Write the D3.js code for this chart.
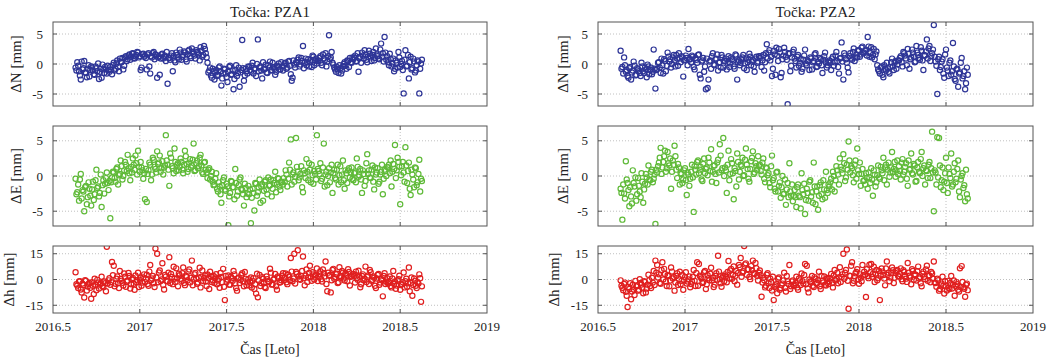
<!DOCTYPE html>
<html>
<head>
<meta charset="utf-8">
<script src="https://cdn.jsdelivr.net/npm/d3@7"></script>
<style>
  body { margin: 0; background: #fff; }
  svg { display: block; }
  text { font-family: "Liberation Serif", "DejaVu Serif", serif; fill: #222; }
</style>
</head>
<body>
<svg id="chart" width="1055" height="361"></svg>
<script>
// epochs (decimal year), shared by both stations; second half is the in-between days
const epochs = [
  2016.63,2016.64,2016.65,2016.66,2016.67,2016.68,2016.69,2016.70,2016.71,2016.72,2016.73,2016.74,2016.75,2016.76,2016.77,2016.78,2016.79,2016.80,2016.81,2016.82,
  2016.83,2016.84,2016.85,2016.86,2016.87,2016.88,2016.89,2016.90,2016.91,2016.92,2016.93,2016.94,2016.95,2016.96,2016.97,2016.98,2016.99,2017.00,2017.01,2017.02,
  2017.03,2017.04,2017.05,2017.06,2017.07,2017.08,2017.09,2017.10,2017.11,2017.12,2017.13,2017.14,2017.15,2017.16,2017.17,2017.18,2017.19,2017.20,2017.21,2017.22,
  2017.23,2017.24,2017.25,2017.26,2017.27,2017.28,2017.29,2017.30,2017.31,2017.32,2017.33,2017.34,2017.35,2017.36,2017.37,2017.38,2017.39,2017.40,2017.41,2017.42,
  2017.43,2017.44,2017.45,2017.46,2017.47,2017.48,2017.49,2017.50,2017.51,2017.52,2017.53,2017.54,2017.55,2017.56,2017.57,2017.58,2017.59,2017.60,2017.61,2017.62,
  2017.63,2017.64,2017.65,2017.66,2017.67,2017.68,2017.69,2017.70,2017.71,2017.72,2017.73,2017.74,2017.75,2017.76,2017.77,2017.78,2017.79,2017.80,2017.81,2017.82,
  2017.83,2017.84,2017.85,2017.86,2017.87,2017.88,2017.89,2017.90,2017.91,2017.92,2017.93,2017.94,2017.95,2017.96,2017.97,2017.98,2017.99,2018.00,2018.01,2018.02,
  2018.03,2018.04,2018.05,2018.06,2018.07,2018.08,2018.09,2018.10,2018.11,2018.12,2018.13,2018.14,2018.15,2018.16,2018.17,2018.18,2018.19,2018.20,2018.21,2018.22,
  2018.23,2018.24,2018.25,2018.26,2018.27,2018.28,2018.29,2018.30,2018.31,2018.32,2018.33,2018.34,2018.35,2018.36,2018.37,2018.38,2018.39,2018.40,2018.41,2018.42,
  2018.43,2018.44,2018.45,2018.46,2018.47,2018.48,2018.49,2018.50,2018.51,2018.52,2018.53,2018.54,2018.55,2018.56,2018.57,2018.58,2018.59,2018.60,2018.61,2018.62,
  2016.635,2016.645,2016.655,2016.665,2016.675,2016.685,2016.695,2016.705,2016.715,2016.725,2016.735,2016.745,2016.755,2016.765,2016.775,2016.785,2016.795,2016.805,2016.815,2016.825,
  2016.835,2016.845,2016.855,2016.865,2016.875,2016.885,2016.895,2016.905,2016.915,2016.925,2016.935,2016.945,2016.955,2016.965,2016.975,2016.985,2016.995,2017.005,2017.015,2017.025,
  2017.035,2017.045,2017.055,2017.065,2017.075,2017.085,2017.095,2017.105,2017.115,2017.125,2017.135,2017.145,2017.155,2017.165,2017.175,2017.185,2017.195,2017.205,2017.215,2017.225,
  2017.235,2017.245,2017.255,2017.265,2017.275,2017.285,2017.295,2017.305,2017.315,2017.325,2017.335,2017.345,2017.355,2017.365,2017.375,2017.385,2017.395,2017.405,2017.415,2017.425,
  2017.435,2017.445,2017.455,2017.465,2017.475,2017.485,2017.495,2017.505,2017.515,2017.525,2017.535,2017.545,2017.555,2017.565,2017.575,2017.585,2017.595,2017.605,2017.615,2017.625,
  2017.635,2017.645,2017.655,2017.665,2017.675,2017.685,2017.695,2017.705,2017.715,2017.725,2017.735,2017.745,2017.755,2017.765,2017.775,2017.785,2017.795,2017.805,2017.815,2017.825,
  2017.835,2017.845,2017.855,2017.865,2017.875,2017.885,2017.895,2017.905,2017.915,2017.925,2017.935,2017.945,2017.955,2017.965,2017.975,2017.985,2017.995,2018.005,2018.015,2018.025,
  2018.035,2018.045,2018.055,2018.065,2018.075,2018.085,2018.095,2018.105,2018.115,2018.125,2018.135,2018.145,2018.155,2018.165,2018.175,2018.185,2018.195,2018.205,2018.215,2018.225,
  2018.235,2018.245,2018.255,2018.265,2018.275,2018.285,2018.295,2018.305,2018.315,2018.325,2018.335,2018.345,2018.355,2018.365,2018.375,2018.385,2018.395,2018.405,2018.415,2018.425,
  2018.435,2018.445,2018.455,2018.465,2018.475,2018.485,2018.495,2018.505,2018.515,2018.525,2018.535,2018.545,2018.555,2018.565,2018.575,2018.585,2018.595,2018.605,2018.615,2018.625
];

// PZA1 [mm]
const pza1N = [
  -0.6,0.3,-1.2,-2.6,-0.9,0.5,-1.5,-0.8,-2.1,-0.4,-1.1,-1.8,-0.7,0.1,-1.3,-2.3,-0.9,-0.5,-1.6,-1.0,
  -0.5,-1.7,0.2,-0.8,0.6,-1.2,0.4,1.0,-0.3,1.3,0.8,1.6,1.2,1.8,0.9,1.5,1.9,1.3,-0.6,1.7,
  1.4,-0.9,1.8,-1.6,1.1,2.0,1.6,-2.3,1.3,0.9,1.7,1.2,0.5,-3.3,1.0,1.4,-1.2,0.6,1.9,1.1,
  2.4,0.7,1.5,1.9,0.4,2.2,1.3,2.6,1.7,0.9,2.0,1.6,2.8,1.2,3.0,1.8,0.2,-1.1,-1.9,-0.8,
  -2.6,-1.0,-1.8,-0.4,-3.6,-1.5,-0.9,-2.2,-1.2,-0.3,-1.7,-4.2,-1.0,-2.0,-0.6,-1.4,4.0,-2.8,-0.8,-1.6,
  -0.5,-1.3,0.2,-0.9,-2.0,4.1,-0.6,-1.1,0.3,-0.8,-1.4,-0.2,0.4,-1.0,-0.5,-1.8,-0.3,0.1,-0.9,-0.4,
  -0.3,0.2,-0.6,0.5,-1.7,-2.3,-0.1,0.3,0.7,-0.4,1.0,3.0,0.2,-0.2,0.8,0.4,-0.5,1.2,0.6,0.1,
  0.6,1.3,-0.2,0.9,1.8,0.4,4.8,1.1,0.2,-0.6,-1.3,-0.9,-0.2,-1.6,-0.4,0.3,-0.8,0.5,1.0,0.2,
  0.8,1.4,0.5,-1.3,1.2,1.9,0.9,1.6,0.3,2.2,1.1,1.5,0.6,2.6,1.3,0.8,3.4,1.8,4.5,0.7,
  0.3,1.7,-0.4,0.9,-0.8,0.2,2.0,-0.5,0.5,-4.9,2.3,-0.3,-2.4,1.2,-0.7,0.4,-1.1,0.6,-4.9,0.1,
  -1.1,-0.3,-1.9,0.4,-0.7,-1.4,-2.2,-0.2,-1.0,-0.6,-1.7,-0.4,-1.2,-2.5,-0.8,-0.1,-1.5,-0.9,-0.3,-1.3,
  -0.9,-0.2,-1.1,0.1,-0.5,0.9,0.3,-0.9,1.1,0.5,1.4,0.7,1.7,1.0,1.3,2.0,1.1,-1.0,1.6,1.2,
  1.0,1.6,-0.4,1.3,1.8,0.8,1.5,1.1,-1.8,1.6,0.9,1.4,2.0,1.0,0.7,1.8,1.3,0.3,1.5,0.8,
  1.9,1.2,2.1,0.8,1.6,2.4,1.0,2.0,1.4,2.3,1.8,0.6,2.2,1.5,2.5,1.1,-1.4,-0.6,-2.3,-1.2,
  -1.4,-2.0,-0.6,-1.2,-2.4,-0.8,-1.6,-3.0,-0.5,-1.8,-1.1,-2.5,-0.2,-1.5,-3.8,-1.0,-0.7,-1.9,-1.2,-0.4,
  -1.0,-0.3,-1.6,-0.7,0.0,-1.2,-0.4,-2.4,-0.9,-0.1,-1.5,-0.6,-1.1,0.2,-0.8,-1.3,-0.5,-0.9,0.3,-1.1,
  0.1,-0.8,0.4,-0.3,-2.8,0.6,-0.6,0.2,1.1,-0.1,0.5,-0.7,0.9,0.3,-0.4,0.7,1.4,-0.2,0.9,0.5,
  1.0,0.2,1.6,0.6,-0.4,1.3,0.8,2.0,-0.1,-0.9,-0.5,-1.5,-0.7,-1.1,0.0,-0.3,0.6,-0.5,0.3,1.1,
  1.1,0.4,1.8,0.9,0.2,1.4,2.3,0.7,1.2,1.7,0.5,2.0,1.0,1.6,0.9,2.4,1.2,0.4,1.9,1.3,
  -0.2,0.8,0.1,-1.2,0.6,-0.6,1.1,0.0,-1.0,0.7,-0.4,1.5,0.3,-0.9,0.9,-1.4,-0.2,0.4,-0.8,0.7
];
const pza1E = [
  -0.4,-2.3,-3.5,0.3,-2.0,-5.0,-1.4,-3.0,-1.8,-4.2,-0.8,-2.6,0.9,-1.5,-2.4,-4.4,-0.6,-1.1,0.5,-2.0,
  -6.0,-0.2,0.5,-0.8,1.2,0.1,2.2,-0.5,0.8,1.6,3.0,0.4,1.3,2.5,0.9,1.8,3.6,0.6,1.2,-0.4,
  -3.3,-3.7,0.8,1.6,0.2,2.3,1.0,3.5,1.9,0.6,2.1,1.2,5.8,1.6,-1.4,2.6,1.1,3.9,0.7,1.8,
  1.3,2.0,0.4,3.6,1.7,1.0,2.4,1.5,4.6,0.8,2.2,1.4,3.0,0.5,1.9,0.9,-0.3,1.1,0.0,-0.8,
  -1.2,0.4,-2.2,-1.5,-3.8,-0.6,-1.9,-1.1,-7.0,-2.4,-0.8,-1.6,1.0,-2.8,-1.3,-0.2,-2.0,-4.2,-1.7,-2.5,
  -2.6,-6.7,-1.8,-4.9,-1.1,-2.3,-0.5,-1.5,-3.5,-0.8,-1.9,-0.2,-1.3,-2.9,-0.6,0.6,-1.2,-0.4,-2.0,-0.9,
  -0.3,0.8,-1.5,1.9,5.2,0.2,-0.8,5.4,0.6,-0.2,1.4,-2.3,0.4,2.4,-0.6,0.9,1.6,-1.1,0.3,5.8,
  0.7,1.8,-0.4,4.6,0.2,-1.3,1.1,0.5,-2.4,0.9,-0.5,1.6,0.1,-0.9,2.2,-1.8,0.4,0.8,-0.2,1.2,
  -0.6,0.5,2.5,-0.1,1.0,-2.4,0.3,-0.7,3.1,0.8,-0.3,1.5,-1.9,0.2,1.1,-0.8,0.6,-2.6,0.9,0.0,
  1.2,0.4,-1.5,1.7,4.4,0.8,2.0,-4.0,1.4,0.5,4.1,-1.0,1.9,-2.7,0.2,-1.6,1.1,-0.9,2.3,-0.4,
  -2.6,-1.2,-0.5,-3.2,-2.2,-1.6,-4.0,-0.9,-2.8,-1.9,-3.4,-0.6,-1.7,-2.9,0.2,-1.3,-2.5,-0.3,-1.0,-0.7,
  -0.9,0.6,-0.3,1.0,-1.2,0.3,1.4,0.0,2.0,0.7,1.1,-0.6,0.5,1.6,2.9,0.2,1.3,2.0,0.8,0.4,
  1.0,0.3,1.9,-0.6,2.6,1.3,0.5,1.7,2.9,1.1,0.2,1.5,2.2,0.9,3.2,1.4,0.4,2.0,1.6,0.8,
  2.5,0.9,1.6,2.8,0.6,1.9,1.2,2.3,0.7,1.8,1.1,2.6,1.5,0.3,2.0,0.5,0.9,-0.5,0.6,-1.3,
  -0.4,-1.8,-0.9,-2.6,-1.3,-0.2,-2.1,-1.5,-2.9,-0.7,-1.6,-3.3,-1.0,-2.2,-0.5,-1.8,-2.6,-1.1,-3.0,-1.4,
  -1.9,-3.1,-2.4,-1.0,-2.8,-1.6,-3.8,-1.2,-2.1,-0.6,-2.6,-1.4,-0.5,-1.8,-1.0,-2.3,-0.3,-1.5,-0.8,-1.2,
  -0.8,0.2,-0.4,0.9,-1.2,0.5,-0.1,1.3,-0.6,0.3,-1.6,0.8,-0.3,0.6,1.8,-0.9,0.1,0.7,-0.5,1.0,
  0.3,-0.7,1.2,-1.5,0.6,0.0,-0.9,1.6,0.4,-0.3,0.9,-1.2,1.4,0.2,-0.6,0.8,-1.0,1.1,0.5,-0.4,
  0.4,-0.9,1.3,0.1,-0.5,0.8,-1.4,1.8,0.3,-0.2,0.9,-0.8,1.2,0.5,-1.1,0.2,1.6,-0.4,0.7,1.3,
  1.6,2.2,0.6,1.0,-0.3,2.6,1.3,0.1,2.0,-0.8,1.5,0.7,-1.8,0.9,-0.5,1.2,-1.3,0.3,-2.2,-0.7
];
const pza1H = [
  4.2,-3.5,-1.2,-5.8,-2.4,-10.5,-0.8,-4.1,-2.0,-11.2,-3.6,0.5,-6.2,-1.8,-3.0,1.6,-4.5,-2.2,19.0,-0.5,
  -3.1,10.2,8.0,-2.5,1.8,-5.0,0.3,-1.9,3.5,-4.2,-0.6,2.1,-2.8,0.9,-6.0,-1.4,4.0,-0.2,-3.7,1.2,
  -1.5,2.8,-3.6,8.4,0.6,-2.2,18.0,15.0,4.1,-0.9,9.5,-5.8,1.7,-1.1,13.0,3.2,-2.7,0.4,6.5,-4.0,
  2.5,-0.8,7.0,-3.3,1.4,4.6,-1.7,11.0,0.2,3.8,-2.5,1.0,-4.6,5.3,0.7,-1.2,2.9,-5.5,1.8,-0.4,
  -2.0,3.1,-0.6,-4.8,1.5,6.2,-12.0,-1.4,2.4,-3.0,0.8,5.0,-2.2,-6.5,1.1,-0.3,3.6,-4.0,0.4,-1.7,
  -3.5,1.2,-0.8,-5.5,-8.2,-10.4,2.6,-2.1,0.5,-4.3,1.8,-1.0,6.3,-3.0,-0.2,3.2,-6.0,0.9,-1.6,2.2,
  -0.5,3.5,-2.7,1.6,12.5,-1.0,15.0,4.4,17.0,0.3,2.0,13.4,-3.4,5.8,1.2,8.0,-0.7,3.0,2.4,6.4,
  1.5,4.8,-1.2,3.6,10.5,-6.8,2.2,-7.5,5.5,0.4,3.0,-2.1,7.2,1.1,4.0,-0.6,2.7,6.0,-3.5,1.9,
  3.3,-1.8,0.8,5.1,-4.5,2.0,-0.5,7.5,1.4,-2.6,4.2,-0.2,1.0,-5.0,2.6,-3.1,0.3,-9.8,3.6,-1.3,
  -2.4,1.8,-4.6,5.0,-1.2,-3.5,0.2,-6.0,-2.8,4.1,-1.0,-4.2,7.0,-2.0,-9.5,0.6,-3.6,-1.5,3.0,-13.0,
  -2.8,-5.0,-1.0,-7.6,-3.2,-0.4,-6.4,-2.6,-4.8,-1.5,-8.5,-3.0,-0.2,-5.2,-2.0,-3.8,-1.2,-6.8,-2.4,0.8,
  -1.5,2.5,-4.0,0.4,-2.2,5.0,-0.8,-3.5,1.6,-1.2,3.8,-5.2,0.0,-2.5,2.4,-0.5,-4.4,1.0,-1.8,3.0,
  0.5,-2.6,4.6,-0.4,2.0,-4.4,1.2,-1.6,5.2,0.0,-3.2,2.6,-0.8,4.0,-2.0,1.5,7.4,-1.4,0.8,3.4,
  0.4,3.6,-2.0,2.2,-0.6,5.8,1.0,-3.4,3.0,0.6,-1.8,6.8,1.6,-0.9,2.4,-3.8,0.9,4.5,-1.5,2.0,
  1.2,-2.8,0.4,3.8,-1.6,-4.2,2.0,0.0,-3.0,1.6,-0.8,3.0,-5.0,0.6,-2.0,2.6,-1.0,4.4,-3.4,0.2,
  -1.2,-4.6,0.8,-2.6,3.4,-0.6,-3.8,1.4,-2.0,-5.0,0.2,-1.4,4.0,-2.8,0.6,-4.0,1.8,-1.8,-0.4,3.6,
  1.0,-1.6,2.8,-0.4,4.6,0.6,-2.4,3.4,1.8,-0.2,5.0,0.8,2.2,-1.4,3.8,1.4,4.2,0.0,2.8,-0.9,
  3.0,0.2,5.8,1.8,-2.6,4.0,2.6,-0.4,6.2,1.4,3.4,-1.6,2.0,5.0,0.6,3.6,-1.0,4.4,1.6,2.8,
  2.0,4.6,-0.2,1.6,-2.8,3.0,0.4,-1.4,2.4,5.6,-0.8,1.8,-3.6,0.6,3.2,-1.8,-0.4,2.0,-2.6,0.8,
  -1.4,-3.8,0.6,-2.6,-5.4,-0.6,2.2,-3.0,-1.6,-4.6,0.4,-2.2,-6.8,1.2,-3.2,-0.8,-5.0,-2.4,0.8,-4.0
];

// PZA2 [mm]
const pza2N = [
  2.2,-0.5,1.1,-1.3,-2.0,-0.7,-2.6,-1.1,-0.3,-1.8,-0.9,-1.5,0.2,-1.2,-0.6,-2.2,-0.4,-1.0,-1.7,2.4,
  -4.1,-0.8,0.3,-1.5,-0.2,0.8,-1.2,1.9,0.4,-0.6,1.1,0.6,1.5,-0.3,0.9,1.3,-2.1,0.7,1.0,2.5,
  0.8,1.4,-0.5,1.0,0.2,1.6,-2.4,0.6,-1.3,-4.2,-4.0,0.4,-0.8,1.8,-0.2,0.9,-1.1,0.3,1.5,-0.6,
  0.5,-0.9,1.3,0.1,0.8,-0.4,1.6,-2.6,0.6,0.2,1.1,-0.7,0.9,0.3,1.7,-0.2,0.7,-1.3,1.2,0.4,
  1.0,-0.5,1.5,0.3,3.3,1.9,0.6,-2.0,2.2,-1.8,1.4,2.5,-2.2,0.8,2.7,1.2,-6.7,1.7,-0.3,2.0,
  0.9,-0.6,1.5,0.2,-1.3,0.7,2.4,-0.2,0.4,1.1,-0.9,0.5,1.8,-0.4,0.1,0.8,-1.5,1.3,0.3,-0.2,
  0.6,-1.0,1.2,0.3,2.0,-0.5,0.9,3.6,-2.6,1.4,0.2,-1.4,1.8,0.7,2.6,1.1,1.1,2.2,1.6,2.9,
  1.9,2.4,4.5,1.2,2.8,1.5,0.8,2.1,-0.9,-1.6,-0.4,-2.2,-0.8,0.2,-1.3,-0.5,0.9,-1.0,0.5,-0.1,
  0.6,1.3,-0.4,1.8,0.9,2.5,-0.8,1.1,1.9,0.3,3.0,1.5,0.7,2.2,-1.0,1.4,4.1,2.6,0.5,1.8,
  6.5,0.4,-5.0,1.2,-0.5,0.8,-2.3,2.4,-1.1,0.2,-1.8,3.5,-2.5,-0.9,-3.8,-1.4,1.0,-2.0,-4.2,-0.6,
  -0.8,-1.6,-0.2,-1.0,-2.3,-0.5,-1.4,0.4,-1.9,-0.7,-1.2,-2.0,-0.4,-1.5,-0.9,-0.1,-1.7,-0.6,-1.3,-0.8,
  -1.0,0.2,-0.6,0.9,-1.6,0.5,-0.3,1.2,0.8,0.0,1.5,-0.4,0.9,1.8,0.3,1.1,0.6,1.4,-0.2,0.8,
  0.3,1.2,-0.9,0.7,1.5,-1.8,0.4,1.0,-0.4,0.9,-2.6,0.6,1.3,-0.1,0.8,1.6,0.2,-0.6,1.1,0.5,
  0.9,0.2,-0.5,1.1,0.6,-0.8,1.4,0.3,-0.2,0.8,1.5,0.1,-1.0,0.7,1.2,0.4,-0.4,0.9,0.2,1.3,
  1.3,0.6,-1.1,1.8,0.9,2.3,1.2,-0.8,1.6,2.7,0.5,1.9,-1.5,1.4,2.0,0.7,1.8,-1.2,1.1,2.4,
  0.5,1.2,-0.3,0.8,-0.8,1.4,0.1,0.6,-1.0,0.9,0.3,1.6,-0.5,0.4,1.0,-0.2,0.7,1.9,-0.6,0.3,
  0.2,0.9,-0.3,1.4,0.5,-1.6,1.0,0.4,1.8,0.8,-0.6,1.3,0.9,2.0,0.5,1.6,2.3,1.2,2.7,1.8,
  2.2,1.4,2.9,1.8,1.1,2.5,1.6,-0.2,-1.2,-0.6,-1.8,-0.2,-1.1,-0.7,-1.6,0.3,-0.4,0.2,-0.8,0.6,
  1.0,0.3,2.0,1.4,-0.2,1.7,0.8,2.4,1.2,0.4,1.9,1.0,2.8,0.6,1.5,2.1,0.9,3.0,1.3,2.4,
  1.2,-0.3,0.8,-1.0,0.4,-1.6,1.6,-0.6,-2.0,0.6,-1.2,-0.4,-2.8,-0.8,-1.6,0.2,-2.4,-1.2,-3.2,-1.8
];
const pza2E = [
  -1.8,-6.2,-2.5,2.1,-1.0,-4.3,-2.9,0.8,-1.5,-3.5,-0.3,-2.2,0.4,-3.8,-1.1,-0.2,1.5,-0.6,0.9,-0.4,
  -6.8,0.5,1.9,4.0,1.2,2.8,0.6,3.4,1.5,-1.8,2.2,4.3,0.9,1.7,-1.2,0.3,-0.5,1.1,-2.7,0.2,
  -0.4,1.6,-5.1,0.9,2.0,0.4,1.3,-0.7,2.5,1.0,0.1,1.9,3.8,0.6,1.5,-1.0,2.3,4.5,0.8,5.4,
  1.2,-2.4,3.6,0.3,1.8,-3.3,0.7,3.2,-0.5,1.6,2.6,0.1,3.9,1.0,-0.8,2.1,3.5,0.5,1.4,2.8,
  1.6,0.2,2.5,-0.9,1.1,0.4,-1.6,2.9,-0.3,-2.2,0.6,-1.4,-3.1,0.0,-2.5,-4.1,-1.0,1.8,-2.8,-3.6,
  -2.0,-4.4,-1.2,-3.0,0.4,-2.6,-5.4,-1.8,-3.5,-0.6,-2.3,1.9,-4.0,-1.5,-2.8,-0.9,-3.3,-1.9,0.6,-2.4,
  -1.5,-0.4,0.6,-2.2,1.4,0.2,2.5,0.9,3.1,-0.7,1.6,4.9,0.5,1.1,-0.9,2.2,3.9,0.3,-1.4,1.0,
  -0.6,0.4,-1.8,-0.2,1.1,-2.8,0.2,-0.9,1.5,-0.4,0.8,2.6,1.2,-1.2,1.9,0.5,3.4,1.0,-0.1,2.2,
  1.4,-0.5,2.4,0.6,1.8,-1.4,0.9,3.2,0.2,1.5,-0.7,2.0,0.4,3.4,1.1,-1.2,0.7,1.6,-0.3,6.3,
  -5.0,0.5,5.5,5.4,-1.6,1.2,-0.8,2.6,-2.4,0.3,3.2,-1.2,1.8,-0.4,2.2,-3.0,0.0,-1.7,-3.6,-2.6,
  -2.4,-1.2,-3.2,-0.5,-2.0,-1.6,-3.9,-1.0,-0.2,-2.6,-1.4,-3.0,-0.8,-1.9,0.3,-1.2,-0.5,0.6,-0.9,0.2,
  0.9,1.4,2.6,0.3,2.0,3.6,1.1,1.8,2.5,0.6,1.6,2.8,-0.3,1.2,0.4,-1.0,0.8,-0.6,0.5,-1.4,
  0.6,-0.2,1.4,0.2,2.2,0.9,-0.5,1.7,0.4,1.2,2.6,0.7,-0.8,1.5,0.3,1.9,0.5,2.9,1.1,0.0,
  0.8,1.6,-0.6,2.4,0.4,1.1,-1.5,2.0,0.6,1.4,0.0,2.3,1.6,-0.4,1.0,2.6,0.3,1.8,0.9,1.5,
  0.7,1.9,-0.4,1.2,0.1,-1.0,1.4,-0.6,-1.8,0.5,-2.2,-0.9,-1.6,-2.6,-0.5,-1.9,-3.0,-2.2,-1.2,-2.8,
  -3.0,-1.6,-2.8,-4.6,-2.0,-1.1,-3.4,-2.4,-0.8,-2.9,-3.8,-1.5,-2.2,-4.8,-1.3,-2.6,-0.6,-3.1,-2.0,-1.2,
  -0.9,-1.9,0.0,-0.6,0.8,-1.2,1.3,0.4,1.8,-0.2,0.9,2.2,1.4,0.1,1.6,-0.4,0.8,1.9,0.3,-0.7,
  -1.2,-0.3,0.5,-1.0,-0.5,0.8,-1.5,0.1,-0.2,1.3,0.4,-0.6,1.6,0.9,-0.1,1.2,0.6,2.0,0.8,0.3,
  0.7,1.9,0.2,1.3,-0.4,2.2,1.0,0.4,1.7,-0.8,1.2,0.6,2.4,0.0,1.5,0.8,-0.3,2.0,1.1,0.5,
  0.8,-1.2,-0.2,1.5,-0.6,-2.0,0.4,-1.0,1.2,-0.3,-1.5,0.6,-0.9,1.0,-2.2,-0.5,0.4,-1.3,0.9,-3.2
];
const pza2H = [
  -0.5,-4.8,-2.6,-7.2,-16.0,-5.5,-11.5,-3.0,-9.0,-4.1,-6.5,0.2,-2.9,-8.0,-1.5,-5.2,2.8,-3.8,1.0,5.0,
  11.0,8.4,3.0,-2.5,10.0,6.2,-1.2,2.5,-4.0,7.0,0.6,-6.5,2.0,-3.2,4.5,-0.8,-6.0,1.5,-2.4,0.0,
  -4.5,-1.2,5.5,-3.8,10.0,9.0,1.4,-2.0,4.2,-5.6,2.5,-0.4,6.8,1.0,-3.0,3.6,13.8,0.2,-4.2,2.0,
  3.0,-1.6,10.8,5.2,0.4,7.6,2.2,-3.0,8.5,12.5,4.0,19.5,9.4,6.0,1.5,7.8,11.0,3.2,6.6,-0.6,
  5.2,-10.0,1.0,-4.6,2.8,-2.2,0.5,-6.4,-12.0,-3.5,-8.0,1.2,-5.0,-2.4,4.0,-7.0,-1.0,8.4,-4.0,-0.5,
  -3.0,1.6,-6.0,-0.5,3.5,-2.4,9.0,8.0,-7.5,-1.2,2.0,-4.4,0.5,-2.0,4.5,-5.5,-0.8,1.8,-3.5,0.9,
  -1.0,3.2,-4.6,5.5,0.4,-2.2,7.2,1.5,15.0,4.0,17.5,-17.0,2.0,10.0,-0.8,3.6,6.0,-2.5,1.0,8.5,
  4.5,-10.2,2.0,8.6,9.0,3.2,-1.5,5.5,0.8,-12.0,6.4,2.6,-3.4,10.5,4.0,1.2,7.0,-2.0,3.8,5.6,
  1.8,6.5,-1.0,4.4,0.5,9.6,2.2,-2.8,5.0,3.0,-0.6,7.5,1.4,-4.0,4.6,0.2,8.0,2.5,-1.6,3.5,
  10.5,-2.0,0.5,-6.5,-3.4,1.6,-8.2,-4.0,-0.8,-5.5,2.0,-3.0,-9.5,-1.5,-6.0,6.5,7.8,-4.5,-10.0,-2.4,
  -3.6,-6.2,-1.8,-9.5,-4.4,-2.2,-7.0,-5.8,-0.8,-3.4,-6.0,-2.0,-4.6,-1.0,-7.5,-3.0,-0.4,-5.0,-1.8,-3.2,
  4.0,1.2,-2.0,5.5,0.0,3.2,-3.8,2.0,-0.6,4.6,1.4,-1.8,3.6,0.2,-2.8,2.6,-0.4,4.2,-1.2,1.8,
  -2.6,1.6,-0.8,3.8,-3.6,2.2,0.6,-1.4,5.0,-2.8,0.8,3.4,-0.6,-4.4,2.0,0.0,4.6,-2.2,1.2,-1.0,
  1.8,4.4,0.6,6.2,2.6,-1.0,5.0,3.8,7.2,1.6,4.8,8.8,2.8,6.0,0.2,5.4,3.6,9.6,2.2,4.0,
  2.6,-1.8,-0.4,-3.6,3.6,-5.0,-1.4,1.6,-4.4,-2.8,0.4,-6.0,-3.2,-0.6,-4.8,2.0,-2.6,-5.6,-1.2,-3.6,
  -2.0,-4.6,0.6,-3.2,-1.0,2.6,-2.8,-5.2,0.0,-1.6,-3.6,1.4,-2.4,-0.4,-4.0,2.0,-1.8,-3.0,0.4,-2.6,
  0.8,-2.0,2.4,-0.6,4.0,1.2,-1.4,3.0,0.4,5.6,-0.8,2.2,8.0,-2.2,1.8,4.4,0.0,3.0,-1.0,2.4,
  2.8,6.0,0.8,4.2,1.6,7.4,3.4,-0.4,5.0,2.2,4.6,0.6,6.4,2.6,-1.0,3.8,5.4,1.0,4.8,2.0,
  3.2,0.2,5.4,2.0,-1.4,4.0,1.2,6.0,-0.2,2.8,4.8,0.6,-2.2,3.4,1.6,5.8,-0.8,2.2,4.4,0.4,
  -1.8,-4.2,-0.4,-5.6,-2.4,-3.6,-1.0,-6.4,-4.8,-2.0,-5.2,-0.6,-3.8,-2.8,-7.0,-4.4,-1.4,-5.4,-3.0,-6.2
];

const stationNames = ['PZA1', 'PZA2'];
const componentLabels = ['ΔN [mm]', 'ΔE [mm]', 'Δh [mm]'];
const xTicks = [2016.5, 2017, 2017.5, 2018, 2018.5, 2019];
const yTicksNE = [-5, 0, 5];
const yTicksH = [-15, 0, 15];

// layout
const svg = d3.select('#chart');
const cols = [
  { x0: 53, x1: 487, series: [pza1N, pza1E, pza1H], labelX: [16, 16, 9] },
  { x0: 598, x1: 1033, series: [pza2N, pza2E, pza2H], labelX: [563, 563, 554] }
];
const rows = [
  { top: 22, bottom: 106, domain: [-7, 7], ticks: yTicksNE, color: '#2e3597' },
  { top: 126, bottom: 226, domain: [-7.1, 7.1], ticks: yTicksNE, color: '#5fba38' },
  { top: 246, bottom: 313, domain: [-19.5, 19.5], ticks: yTicksH, color: '#e01f1f' }
];

cols.forEach((col, ci) => {
  const x = d3.scaleLinear().domain([2016.5, 2019]).range([col.x0, col.x1]);

  svg.append('text')
    .attr('x', (col.x0 + col.x1) / 2).attr('y', 17)
    .attr('text-anchor', 'middle')
    .style('font-size', '15px')
    .text('Točka: ' + stationNames[ci]);

  rows.forEach((row, ri) => {
    const y = d3.scaleLinear().domain(row.domain).range([row.bottom, row.top]);
    const g = svg.append('g');
    const clipId = `clip-${ci}-${ri}`;
    svg.append('clipPath').attr('id', clipId).append('rect')
      .attr('x', col.x0).attr('y', row.top)
      .attr('width', col.x1 - col.x0).attr('height', row.bottom - row.top);

    // dotted grid
    g.selectAll('.vg').data(xTicks.slice(1, -1)).enter().append('line')
      .attr('x1', d => x(d)).attr('x2', d => x(d))
      .attr('y1', row.top).attr('y2', row.bottom)
      .attr('stroke', '#b0b0b0').attr('stroke-width', 0.8).attr('stroke-dasharray', '1,2');
    g.selectAll('.hg').data(row.ticks).enter().append('line')
      .attr('x1', col.x0).attr('x2', col.x1)
      .attr('y1', d => y(d)).attr('y2', d => y(d))
      .attr('stroke', '#b0b0b0').attr('stroke-width', 0.8).attr('stroke-dasharray', '1,2');

    // open circle markers
    g.append('g').attr('clip-path', `url(#${clipId})`)
      .selectAll('circle').data(col.series[ri]).enter().append('circle')
      .attr('cx', (d, i) => x(epochs[i]))
      .attr('cy', d => y(d))
      .attr('r', 2.6)
      .attr('fill', 'none')
      .attr('stroke', row.color)
      .attr('stroke-width', 1.2);

    // frame + inner ticks
    g.append('rect')
      .attr('x', col.x0).attr('y', row.top)
      .attr('width', col.x1 - col.x0).attr('height', row.bottom - row.top)
      .attr('fill', 'none').attr('stroke', '#555').attr('stroke-width', 1);
    row.ticks.forEach(t => {
      g.append('line').attr('x1', col.x0).attr('x2', col.x0 + 4).attr('y1', y(t)).attr('y2', y(t)).attr('stroke', '#555');
      g.append('line').attr('x1', col.x1 - 4).attr('x2', col.x1).attr('y1', y(t)).attr('y2', y(t)).attr('stroke', '#555');
    });
    xTicks.slice(1, -1).forEach(t => {
      g.append('line').attr('x1', x(t)).attr('x2', x(t)).attr('y1', row.bottom).attr('y2', row.bottom - 4).attr('stroke', '#555');
      g.append('line').attr('x1', x(t)).attr('x2', x(t)).attr('y1', row.top).attr('y2', row.top + 4).attr('stroke', '#555');
    });

    // y tick labels
    g.selectAll('.yl').data(row.ticks).enter().append('text')
      .attr('x', col.x0 - 10).attr('y', d => y(d))
      .attr('text-anchor', 'end').attr('dominant-baseline', 'central')
      .style('font-size', '13px')
      .text(d => String(d));

    // y label
    const cy = (row.top + row.bottom) / 2;
    g.append('text')
      .attr('transform', `translate(${col.labelX[ri]},${cy}) rotate(-90)`)
      .attr('text-anchor', 'middle').attr('dominant-baseline', 'central')
      .style('font-size', '15px')
      .text(componentLabels[ri]);

    if (ri === rows.length - 1) {
      g.selectAll('.xl').data(xTicks).enter().append('text')
        .attr('x', d => x(d)).attr('y', 331)
        .attr('text-anchor', 'middle')
        .style('font-size', '13px')
        .text(d => String(d));
      g.append('text')
        .attr('x', (col.x0 + col.x1) / 2).attr('y', 354)
        .attr('text-anchor', 'middle')
        .style('font-size', '14px')
        .text('Čas [Leto]');
    }
  });
});
</script>
</body>
</html>
